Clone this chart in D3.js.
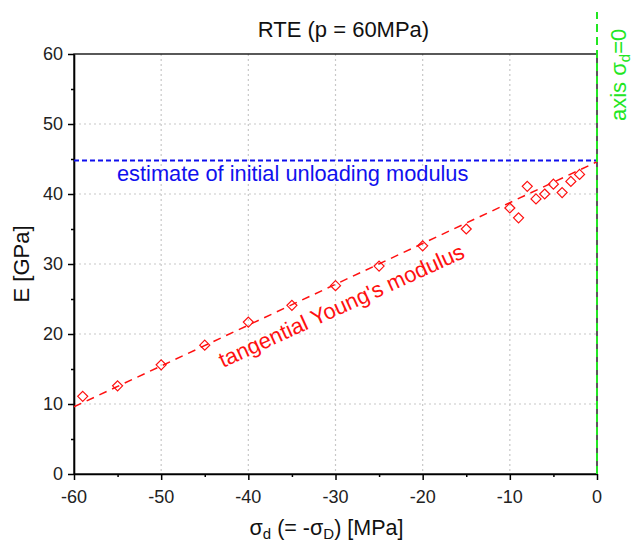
<!DOCTYPE html>
<html>
<head>
<meta charset="utf-8">
<script src="https://cdn.jsdelivr.net/npm/d3@7"></script>
<style>
  body { margin: 0; background: #fff; }
  svg { font-family: Arial, "Liberation Sans", sans-serif; }
</style>
</head>
<body>
<svg id="chart" width="638" height="547"></svg>
<script>
// measured points (sigma_d in MPa, E in GPa)
const sigmaD = [-59, -55, -50, -45, -40, -35, -30, -25, -20, -15, -10, -9, -8, -7, -6, -5, -4, -3, -2];
const modulusE = [11.1, 12.6, 15.6, 18.4, 21.7, 24.1, 26.9, 29.7, 32.6, 35.0, 38.0, 36.6, 41.1, 39.3, 40.0, 41.4, 40.2, 41.8, 42.8];

// fitted tangential modulus line and unloading estimate
const fitLine = [[-60, 9.6], [0, 44.6]];
const unloadLine = [[-60, 44.8], [0, 44.8]];
const zeroAxisLine = [[0, 0], [0, 66]];

const xTicks = [-60, -50, -40, -30, -20, -10, 0];
const yTicks = [0, 10, 20, 30, 40, 50, 60];

const margin = {top: 54, right: 41, bottom: 73, left: 74};
const width = 638 - margin.left - margin.right;
const height = 547 - margin.top - margin.bottom;

const svg = d3.select("#chart");
const g = svg.append("g").attr("transform", `translate(${margin.left},${margin.top})`);

const x = d3.scaleLinear().domain([-60, 0]).range([0, width]);
const y = d3.scaleLinear().domain([0, 60]).range([height, 0]);

// grid
g.append("g").selectAll("line").data(xTicks.slice(1, -1)).join("line")
    .attr("x1", d => x(d)).attr("x2", d => x(d))
    .attr("y1", 0).attr("y2", height)
    .style("stroke", "#c8c8c8").style("stroke-width", 1.2).style("stroke-dasharray", "2,3");
g.append("g").selectAll("line").data(yTicks.slice(1, -1)).join("line")
    .attr("x1", 0).attr("x2", width)
    .attr("y1", d => y(d)).attr("y2", d => y(d))
    .style("stroke", "#c8c8c8").style("stroke-width", 1.2).style("stroke-dasharray", "2,3");

// frame
g.append("rect").attr("width", width).attr("height", height)
    .style("fill", "none").style("stroke", "#000").style("stroke-width", 1.3);

// axes: major + minor ticks outward
const xAxis = g.append("g").attr("transform", `translate(0,${height})`)
    .call(d3.axisBottom(x).tickValues(d3.range(-60, 1, 5))
        .tickSize(0).tickFormat(""));
const yAxis = g.append("g")
    .call(d3.axisLeft(y).tickValues(d3.range(0, 61, 5))
        .tickSize(0).tickFormat(""));
[xAxis, yAxis].forEach(a => a.select(".domain").style("stroke", "#000").style("stroke-width", 1.6));

xAxis.selectAll(".tick line")
    .attr("y2", d => d % 10 === 0 ? 6 : 3)
    .style("stroke", "#000").style("stroke-width", 1.5);
yAxis.selectAll(".tick line")
    .attr("x2", d => d % 10 === 0 ? -6 : -3)
    .style("stroke", "#000").style("stroke-width", 1.5);

g.append("g").selectAll("text").data(xTicks).join("text")
    .attr("x", d => x(d)).attr("y", height + 29)
    .attr("text-anchor", "middle")
    .style("font-size", "18px").style("fill", "#222")
    .text(d => d);
g.append("g").selectAll("text").data(yTicks).join("text")
    .attr("x", -11).attr("y", d => y(d)).attr("dy", "0.35em")
    .attr("text-anchor", "end")
    .style("font-size", "18px").style("fill", "#222")
    .text(d => d);

// lines
const line = d3.line().x(d => x(d[0])).y(d => y(d[1]));

g.append("path").datum(unloadLine).attr("d", line)
    .style("fill", "none").style("stroke", "#1010ee").style("stroke-width", 2)
    .style("stroke-dasharray", "5,3");

g.append("path").datum(fitLine).attr("d", line)
    .style("fill", "none").style("stroke", "#ff1010").style("stroke-width", 1.5)
    .style("stroke-dasharray", "8,6");

// points
const points = sigmaD.map((s, i) => [s, modulusE[i]]);
g.append("g").selectAll("path").data(points).join("path")
    .attr("transform", d => `translate(${x(d[0])},${y(d[1])})`)
    .attr("d", "M0,-5L5,0L0,5L-5,0Z")
    .style("fill", "none").style("stroke", "#ff1010").style("stroke-width", 1.2);

g.append("path").datum(zeroAxisLine).attr("d", line)
    .style("fill", "none").style("stroke", "#22e622").style("stroke-width", 2)
    .style("stroke-dasharray", "8,5");

// annotations
g.append("text")
    .attr("x", 117 - margin.left).attr("y", 181 - margin.top)
    .style("font-size", "21.8px").style("fill", "#1010ee")
    .text("estimate of initial unloading modulus");

g.append("text")
    .attr("transform", `translate(${223 - margin.left},${368 - margin.top}) rotate(-24.5)`)
    .style("font-size", "22px").style("fill", "#ff1010")
    .text("tangential Young's modulus");

const zeroLabel = g.append("text")
    .attr("transform", `translate(${width + 29},${121 - margin.top}) rotate(-90)`)
    .style("font-size", "22px").style("fill", "#22e622");
zeroLabel.append("tspan").text("axis σ");
zeroLabel.append("tspan").attr("dy", 4).style("font-size", "15px").text("d");
zeroLabel.append("tspan").attr("dy", -4).text("=0");

// titles
svg.append("text")
    .attr("x", margin.left + width / 2 + 8).attr("y", 37)
    .attr("text-anchor", "middle")
    .style("font-size", "22px").style("fill", "#111")
    .text("RTE (p = 60MPa)");

const xTitle = svg.append("text")
    .attr("x", margin.left + width / 2 - 9).attr("y", 535)
    .attr("text-anchor", "middle")
    .style("font-size", "21.5px").style("fill", "#111");
xTitle.append("tspan").text("σ");
xTitle.append("tspan").attr("dy", 4).style("font-size", "15px").text("d");
xTitle.append("tspan").attr("dy", -4).text(" (= -σ");
xTitle.append("tspan").attr("dy", 4).style("font-size", "15px").text("D");
xTitle.append("tspan").attr("dy", -4).text(") [MPa]");

svg.append("text")
    .attr("transform", `translate(29,${margin.top + height / 2}) rotate(-90)`)
    .attr("text-anchor", "middle")
    .style("font-size", "22px").style("fill", "#111")
    .text("E [GPa]");
</script>
</body>
</html>
